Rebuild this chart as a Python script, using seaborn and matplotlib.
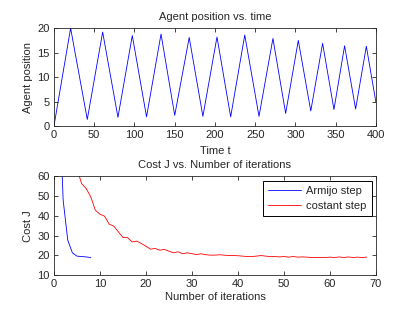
import numpy as np
import pandas as pd
import seaborn as sns
import matplotlib.pyplot as plt

# agent position: turning points of the trajectory
time_t = [0, 20.7, 41.4, 60.5, 79.5, 97.3, 115, 133, 150, 168, 185, 202.5, 219.5,
          237, 254.7, 272, 287.8, 303.5, 319, 333.7, 347.8, 361, 374.7, 388, 400]
position = [0, 20, 1.37, 19.2, 1.8, 18.5, 1.9, 18.8, 2.2, 18.1, 2.0, 18.2, 1.9,
            18.6, 2.0, 17.9, 2.6, 17.5, 3.1, 16.9, 3.4, 16.4, 3.5, 16.3, 4.8]

# cost vs iterations
armijo_iter = [1, 2, 3, 4, 5, 6, 7, 8]
armijo_cost = [108, 47.9, 27.7, 21.3, 19.6, 19.4, 19.2, 18.9]

const_iter = list(range(5, 69))
const_cost = [64, 56.3, 53.8, 49.6, 42.8, 40.8, 39.8, 35.8, 34.8, 31.9, 29.0, 29.0,
              26.8, 27.2, 26.0, 24.6, 23.1, 23.5, 22.6, 23.0, 22.1, 21.3, 21.8, 20.8,
              21.3, 20.8, 20.4, 20.8, 20.3, 20.1, 20.1, 20.3, 20.1, 19.9, 19.9, 19.8,
              19.6, 19.4, 19.4, 19.6, 19.9, 19.6, 19.4, 19.4, 19.2, 19.4, 19.1, 19.4,
              19.1, 19.2, 19.1, 18.9, 18.9, 18.9, 18.9, 19.1, 18.9, 19.2, 18.9, 19.2,
              18.9, 19.1, 18.9, 19.1]

sns.set_style("ticks")
plt.rcParams['font.family'] = ['Liberation Sans', 'DejaVu Sans']
plt.rcParams['font.size'] = 8
plt.rcParams['xtick.direction'] = 'in'
plt.rcParams['ytick.direction'] = 'in'
plt.rcParams['xtick.top'] = True
plt.rcParams['ytick.right'] = True
plt.rcParams['xtick.major.size'] = 3
plt.rcParams['ytick.major.size'] = 3
plt.rcParams['axes.linewidth'] = 0.6
plt.rcParams['xtick.major.width'] = 0.6
plt.rcParams['ytick.major.width'] = 0.6

fig = plt.figure(figsize=(4.15, 3.13), dpi=100)
ax1 = fig.add_axes([0.130, 0.597, 0.776, 0.313])
ax2 = fig.add_axes([0.130, 0.121, 0.776, 0.316])

pos_df = pd.DataFrame({'t': time_t, 'pos': position})
sns.lineplot(data=pos_df, x='t', y='pos', ax=ax1, color='blue', linewidth=0.6)
ax1.set_xlim(0, 400)
ax1.set_ylim(0, 20)
ax1.set_xticks(np.arange(0, 401, 50))
ax1.set_yticks([0, 5, 10, 15, 20])
ax1.set_title('Agent position vs. time', fontsize=8, pad=6)
ax1.set_xlabel('Time t', fontsize=8, labelpad=4)
ax1.set_ylabel('Agent position', fontsize=8, labelpad=3)

a_df = pd.DataFrame({'it': armijo_iter, 'J': armijo_cost})
c_df = pd.DataFrame({'it': const_iter, 'J': const_cost})
sns.lineplot(data=a_df, x='it', y='J', ax=ax2, color='blue', linewidth=0.6, label='Armijo step')
sns.lineplot(data=c_df, x='it', y='J', ax=ax2, color='red', linewidth=0.6, label='costant step')
ax2.set_xlim(0, 70)
ax2.set_ylim(10, 60)
ax2.set_xticks(np.arange(0, 71, 10))
ax2.set_yticks(np.arange(10, 61, 10))
ax2.set_title('Cost J vs. Number of iterations', fontsize=8, pad=6)
ax2.set_xlabel('Number of iterations', fontsize=8, labelpad=2)
ax2.set_ylabel('Cost J', fontsize=8, labelpad=3)
leg = ax2.legend(loc='upper right', fontsize=8, fancybox=False, framealpha=1,
                 edgecolor='black', borderaxespad=0.4, handlelength=2.9,
                 handletextpad=0.5, borderpad=0.45, labelspacing=0.45)
leg.get_frame().set_linewidth(0.7)

for ax in (ax1, ax2):
    ax.tick_params(labelsize=8, pad=3)
    for s in ax.spines.values():
        s.set_visible(True)

fig.savefig('out.png', dpi=100)
